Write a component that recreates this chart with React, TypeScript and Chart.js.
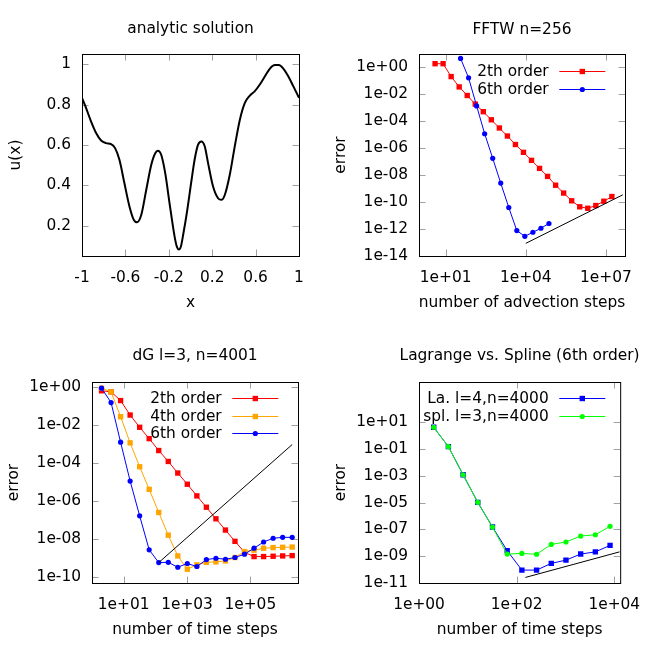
import React, { useEffect, useRef } from 'react';
import { Chart, registerables } from 'chart.js';

Chart.register(...registerables);

const FONT_FAMILY = '"DejaVu Sans", sans-serif';
const FONT_SIZE = 15.4;
const SIZE = 327;

// ---------- Panel 1: analytic solution ----------
const analyticX = [-1.0, -0.963, -0.917, -0.870, -0.824, -0.778, -0.732, -0.695, -0.655, -0.609, -0.562, -0.522, -0.494, -0.454, -0.408, -0.362, -0.325, -0.300, -0.270, -0.233, -0.193, -0.146, -0.125, -0.107, -0.088, -0.066, -0.032, 0.008, 0.039, 0.069, 0.100, 0.131, 0.162, 0.208, 0.254, 0.285, 0.316, 0.362, 0.408, 0.455, 0.501, 0.547, 0.593, 0.639, 0.686, 0.732, 0.778, 0.815, 0.855, 0.901, 0.947, 1.0];
const analyticY = [0.833, 0.783, 0.717, 0.659, 0.622, 0.609, 0.604, 0.584, 0.526, 0.41, 0.294, 0.228, 0.217, 0.253, 0.377, 0.501, 0.559, 0.571, 0.551, 0.46, 0.311, 0.145, 0.095, 0.082, 0.098, 0.16, 0.27, 0.42, 0.53, 0.60, 0.617, 0.593, 0.510, 0.394, 0.336, 0.328, 0.352, 0.452, 0.593, 0.725, 0.808, 0.844, 0.866, 0.899, 0.940, 0.978, 0.995, 0.995, 0.978, 0.940, 0.891, 0.833];
const p1XTicks = [-1, -0.6, -0.2, 0.2, 0.6, 1];
const p1YTicks = [0.2, 0.4, 0.6, 0.8, 1];

// ---------- Panel 2: FFTW n=256 ----------
const fftwSteps2 = [4, 8, 16, 32, 64, 128, 256, 512, 1024, 2048, 4096, 8192, 16384, 32768, 65536, 131072, 262144, 524288, 1048576, 2097152, 4194304, 8388608, 16777216];
const fftwErr2 = [1.9, 1.9, 0.21, 0.036, 8.3e-3, 1.9e-3, 5.2e-4, 1.3e-4, 3.2e-5, 8.1e-6, 1.9e-6, 5.0e-7, 1.26e-7, 3.2e-8, 8.1e-9, 1.8e-9, 4.7e-10, 1.26e-10, 4.5e-11, 3.5e-11, 5.6e-11, 1.17e-10, 2.6e-10];
const fftwSteps6 = [36, 72, 144, 288, 576, 1152, 2304, 4608, 9216, 18432, 36864, 73728];
const fftwErr6 = [4.7, 0.17, 1.4e-3, 1.2e-5, 1.8e-7, 2.6e-9, 4.0e-11, 7.7e-13, 2.9e-13, 5.8e-13, 1.15e-12, 2.6e-12];
const fftwRefX = [1e4, 4.3e7];
const fftwRefY = [8.7e-14, 3.5e-10];
const p2XTicks = [1e1, 1e4, 1e7];
const p2YTicks = [1, 1e-2, 1e-4, 1e-6, 1e-8, 1e-10, 1e-12, 1e-14];

// ---------- Panel 3: dG l=3, n=4001 ----------
const dgSteps = [2, 4, 8, 16, 32, 64, 128, 256, 512, 1024, 2048, 4096, 8192, 16384, 32768, 65536, 131072, 262144, 524288, 1048576, 2097152];
const dgErr2 = [0.62, 0.55, 0.19, 0.033, 7.5e-3, 1.9e-3, 4.5e-4, 1.2e-4, 2.95e-5, 7.6e-6, 1.86e-6, 4.7e-7, 1.16e-7, 2.97e-8, 7.6e-9, 2.0e-9, 1.2e-9, 1.2e-9, 1.25e-9, 1.3e-9, 1.35e-9];
const dgErr4 = [0.85, 0.55, 0.027, 1.14e-3, 6.3e-5, 4.1e-6, 2.5e-7, 1.6e-8, 1.3e-9, 2.6e-10, 4.4e-10, 6.0e-10, 6.3e-10, 7.1e-10, 1.07e-9, 2.2e-9, 2.6e-9, 3.3e-9, 3.55e-9, 3.7e-9, 3.8e-9];
const dgErr6 = [0.85, 0.15, 1.23e-3, 1.12e-5, 1.66e-7, 2.7e-9, 5.8e-10, 6.0e-10, 3.3e-10, 5.2e-10, 3.6e-10, 8.3e-10, 9.8e-10, 8.7e-10, 1.07e-9, 1.6e-9, 3.3e-9, 7.0e-9, 1.1e-8, 1.23e-8, 1.23e-8];
const dgRefX = [128, 2.1e6];
const dgRefY = [5.8e-10, 9.3e-4];
const p3XTicks = [1e1, 1e3, 1e5];
const p3YTicks = [1, 1e-2, 1e-4, 1e-6, 1e-8, 1e-10];

// ---------- Panel 4: Lagrange vs. Spline ----------
const lsSteps = [2, 4, 8, 16, 32, 64, 128, 256, 512, 1024, 2048, 4096, 8192];
const lagErr = [4.2, 0.15, 1.2e-3, 1.05e-5, 1.5e-7, 2.6e-9, 9.2e-11, 9.2e-11, 2.9e-10, 5.1e-10, 1.45e-9, 2.1e-9, 6.4e-9];
const splErr = [4.2, 0.15, 1.2e-3, 1.05e-5, 1.5e-7, 1.45e-9, 1.6e-9, 1.4e-9, 7.6e-9, 1.15e-8, 3.2e-8, 4.0e-8, 1.7e-7];
const lsRefX = [151, 1.28e4];
const lsRefY = [2.6e-11, 2.1e-9];
const p4XTicks = [1, 1e2, 1e4];
const p4YTicks = [1e1, 1e-1, 1e-3, 1e-5, 1e-7, 1e-9, 1e-11];

const RECT_R = 3.8;
const CIRC_R = 2.6;

function expLabel(v: number): string {
  const k = Math.round(Math.log10(v));
  const a = Math.abs(k);
  return '1e' + (k < 0 ? '-' : '+') + (a < 10 ? '0' + a : String(a));
}
function linLabel(v: number): string {
  return String(Math.round(v * 100) / 100);
}

type Ser = { label: string; xs: number[]; ys: number[]; color: string; style: 'rect' | 'circle' | null; width?: number; smooth?: boolean };

function makeDatasets(series: Ser[]) {
  const n = series.length;
  return series.map((s, i) => ({
    label: s.label,
    data: s.xs.map((x, j) => ({ x, y: s.ys[j] })),
    borderColor: s.color,
    backgroundColor: s.color,
    borderWidth: s.width ?? 1,
    pointStyle: s.style || 'circle',
    pointRadius: s.style === 'rect' ? RECT_R : s.style === 'circle' ? CIRC_R : 0,
    pointHoverRadius: 0,
    pointBorderWidth: 0,
    pointBackgroundColor: s.color,
    cubicInterpolationMode: s.smooth ? 'monotone' : 'default',
    tension: 0,
    fill: false,
    order: n - i,
  }));
}

const framePlugin = {
  id: 'gnuFrame',
  beforeDatasetsDraw(chart: any) {
    const { ctx, chartArea: a, scales } = chart;
    const L = 6.5;
    ctx.save();
    ctx.strokeStyle = '#a0a0a0';
    ctx.lineWidth = 1;
    ctx.beginPath();
    scales.x.ticks.forEach((t: any) => {
      const p = Math.round(scales.x.getPixelForValue(t.value)) + 0.5;
      ctx.moveTo(p, a.bottom); ctx.lineTo(p, a.bottom - L);
      ctx.moveTo(p, a.top); ctx.lineTo(p, a.top + L);
    });
    scales.y.ticks.forEach((t: any) => {
      const p = Math.round(scales.y.getPixelForValue(t.value)) + 0.5;
      ctx.moveTo(a.left, p); ctx.lineTo(a.left + L, p);
      ctx.moveTo(a.right, p); ctx.lineTo(a.right - L, p);
    });
    ctx.stroke();
    ctx.strokeStyle = '#000';
    ctx.strokeRect(a.left + 0.5, a.top + 0.5, a.right - a.left, a.bottom - a.top);
    ctx.restore();
  },
};

const textPlugin = {
  id: 'gnuText',
  afterDraw(chart: any, _args: any, o: any) {
    const { ctx, chartArea: a } = chart;
    ctx.save();
    ctx.fillStyle = '#000';
    ctx.font = `${FONT_SIZE}px ${FONT_FAMILY}`;
    ctx.textAlign = 'center';
    ctx.textBaseline = 'alphabetic';
    const cx = (a.left + a.right) / 2;
    ctx.fillText(o.title, cx, o.titleBase);
    ctx.fillText(o.xTitle, cx, o.xTitleBase);
    ctx.translate(o.yTitleBase, (a.top + a.bottom) / 2);
    ctx.rotate(-Math.PI / 2);
    ctx.fillText(o.yTitle, 0, 0);
    ctx.restore();
  },
};

const legendPlugin = {
  id: 'gnuLegend',
  afterDatasetsDraw(chart: any, _args: any, o: any) {
    if (!o || !o.show) return;
    const { ctx } = chart;
    const items = chart.data.datasets.filter((d: any) => d.label);
    ctx.save();
    ctx.font = `${FONT_SIZE}px ${FONT_FAMILY}`;
    ctx.textAlign = 'right';
    ctx.textBaseline = 'alphabetic';
    items.forEach((d: any, i: number) => {
      const y = o.y + i * o.dy;
      ctx.fillStyle = '#000';
      ctx.fillText(d.label, o.textRight, y + 5);
      ctx.strokeStyle = d.borderColor;
      ctx.lineWidth = 1;
      ctx.beginPath();
      ctx.moveTo(o.x0, Math.round(y) + 0.5);
      ctx.lineTo(o.x1, Math.round(y) + 0.5);
      ctx.stroke();
      const mx = (o.x0 + o.x1) / 2;
      ctx.fillStyle = d.borderColor;
      ctx.beginPath();
      if (d.pointStyle === 'rect') {
        const s = Math.SQRT1_2 * d.pointRadius;
        ctx.rect(mx - s, Math.round(y) + 0.5 - s, 2 * s, 2 * s);
      } else {
        ctx.arc(mx, Math.round(y) + 0.5, d.pointRadius, 0, Math.PI * 2);
      }
      ctx.fill();
    });
    ctx.restore();
  },
};

type Spec = {
  left: number; top: number;
  xType: string; yType: string;
  xMin: number; xMax: number; yMin: number; yMax: number;
  xTicks: number[]; yTicks: number[];
  areaLeft: number; areaTop: number; areaRight: number; areaBottom: number;
  title: string; xTitle: string; yTitle: string;
  titleBase: number; yTitleBase: number;
  series: Ser[]; legend: boolean;
};

function buildConfig(s: Spec): any {
  const fx = s.xType === 'logarithmic' ? expLabel : linLabel;
  const fy = s.yType === 'logarithmic' ? expLabel : linLabel;
  const tickFont = { family: FONT_FAMILY, size: FONT_SIZE };
  return {
    type: 'line',
    data: { datasets: makeDatasets(s.series) },
    options: {
      responsive: false,
      animation: false,
      devicePixelRatio: 1,
      events: [],
      layout: { autoPadding: false, padding: { left: 0, top: s.areaTop, right: SIZE - s.areaRight, bottom: 0 } },
      plugins: {
        legend: { display: false },
        tooltip: { enabled: false },
        title: { display: false },
        gnuText: { title: s.title, xTitle: s.xTitle, yTitle: s.yTitle, titleBase: s.titleBase, xTitleBase: 306.5, yTitleBase: s.yTitleBase },
        gnuLegend: { show: s.legend, textRight: 221.7, x0: 232.3, x1: 278.3, y: 70.7, dy: 17.8 },
      },
      scales: {
        x: {
          type: s.xType, min: s.xMin, max: s.xMax, position: 'bottom',
          afterBuildTicks: (sc: any) => { sc.ticks = s.xTicks.map((v) => ({ value: v })); },
          afterFit: (sc: any) => { sc.height = SIZE - s.areaBottom; },
          grid: { display: false, drawTicks: false },
          border: { display: false },
          ticks: { callback: (v: any) => fx(Number(v)), color: '#000', font: tickFont, padding: 13, maxRotation: 0, minRotation: 0, autoSkip: false },
        },
        y: {
          type: s.yType, min: s.yMin, max: s.yMax, position: 'left',
          afterBuildTicks: (sc: any) => { sc.ticks = s.yTicks.map((v) => ({ value: v })); },
          afterFit: (sc: any) => { sc.width = s.areaLeft; },
          grid: { display: false, drawTicks: false },
          border: { display: false },
          ticks: { callback: (v: any) => fy(Number(v)), color: '#000', font: tickFont, padding: 11, autoSkip: false },
        },
      },
    },
    plugins: [framePlugin, legendPlugin, textPlugin],
  };
}

const specs: Spec[] = [
  {
    left: 0, top: 0, xType: 'linear', yType: 'linear',
    xMin: -1, xMax: 1, yMin: 0.05, yMax: 1.05, xTicks: p1XTicks, yTicks: p1YTicks,
    areaLeft: 82, areaTop: 54, areaRight: 299, areaBottom: 256,
    title: 'analytic solution', xTitle: 'x', yTitle: 'u(x)', titleBase: 33.3, yTitleBase: 20,
    legend: false,
    series: [{ label: '', xs: analyticX, ys: analyticY, color: '#000000', style: null, width: 2, smooth: true }],
  },
  {
    left: 327, top: 0, xType: 'logarithmic', yType: 'logarithmic',
    xMin: 1, xMax: 5.2e7, yMin: 1e-14, yMax: 10, xTicks: p2XTicks, yTicks: p2YTicks,
    areaLeft: 92, areaTop: 54, areaRight: 298, areaBottom: 256,
    title: 'FFTW n=256', xTitle: 'number of advection steps', yTitle: 'error', titleBase: 33.5, yTitleBase: 17.5,
    legend: true,
    series: [
      { label: '2th order', xs: fftwSteps2, ys: fftwErr2, color: '#ff0000', style: 'rect' },
      { label: '6th order', xs: fftwSteps6, ys: fftwErr6, color: '#0000ff', style: 'circle' },
      { label: '', xs: fftwRefX, ys: fftwRefY, color: '#000000', style: null },
    ],
  },
  {
    left: 0, top: 327, xType: 'logarithmic', yType: 'logarithmic',
    xMin: 1, xMax: 3.2e6, yMin: 4.9e-11, yMax: 1.8, xTicks: p3XTicks, yTicks: p3YTicks,
    areaLeft: 92, areaTop: 55, areaRight: 298, areaBottom: 256,
    title: 'dG l=3, n=4001', xTitle: 'number of time steps', yTitle: 'error', titleBase: 32.5, yTitleBase: 17.5,
    legend: true,
    series: [
      { label: '2th order', xs: dgSteps, ys: dgErr2, color: '#ff0000', style: 'rect' },
      { label: '4th order', xs: dgSteps, ys: dgErr4, color: '#ffa500', style: 'rect' },
      { label: '6th order', xs: dgSteps, ys: dgErr6, color: '#0000ff', style: 'circle' },
      { label: '', xs: dgRefX, ys: dgRefY, color: '#000000', style: null },
    ],
  },
  {
    left: 327, top: 327, xType: 'logarithmic', yType: 'logarithmic',
    xMin: 1, xMax: 1.32e4, yMin: 1e-11, yMax: 1e4, xTicks: p4XTicks, yTicks: p4YTicks,
    areaLeft: 92, areaTop: 55, areaRight: 298, areaBottom: 256,
    title: 'Lagrange vs. Spline (6th order)', xTitle: 'number of time steps', yTitle: 'error', titleBase: 32.5, yTitleBase: 17.5,
    legend: true,
    series: [
      { label: 'La. l=4,n=4000', xs: lsSteps, ys: lagErr, color: '#0000ff', style: 'rect' },
      { label: 'spl. l=3,n=4000', xs: lsSteps, ys: splErr, color: '#00ff00', style: 'circle' },
      { label: '', xs: lsRefX, ys: lsRefY, color: '#000000', style: null },
    ],
  },
];

function Panel({ spec }: { spec: Spec }) {
  const ref = useRef<HTMLCanvasElement>(null);
  useEffect(() => {
    const chart = new Chart(ref.current as HTMLCanvasElement, buildConfig(spec));
    return () => chart.destroy();
  }, [spec]);
  return (
    <canvas
      ref={ref}
      width={SIZE}
      height={SIZE}
      style={{ position: 'absolute', left: spec.left, top: spec.top, width: SIZE, height: SIZE }}
    />
  );
}

export default function App() {
  return (
    <div style={{ position: 'absolute', left: 0, top: 0, width: 654, height: 654, background: '#ffffff' }}>
      {specs.map((s, i) => (
        <Panel key={i} spec={s} />
      ))}
    </div>
  );
}
